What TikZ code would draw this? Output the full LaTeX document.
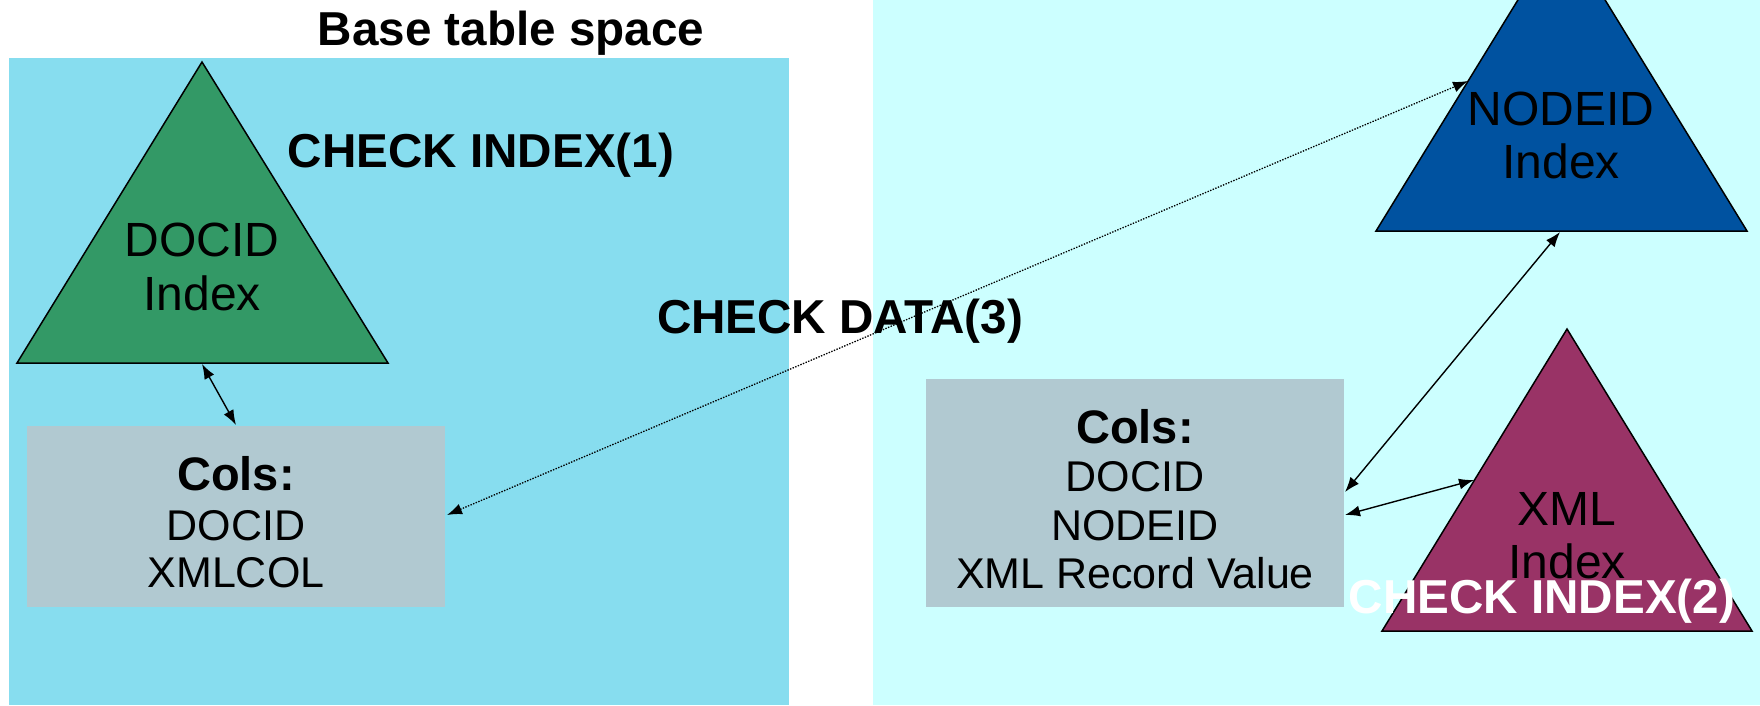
\documentclass[tikz,border=0pt]{standalone}
\usepackage{fontspec}
\setmainfont{Liberation Sans}
\usetikzlibrary{arrows.meta}
\begin{document}
\definecolor{leftbg}{RGB}{135,221,239}
\definecolor{rightbg}{RGB}{204,255,255}
\definecolor{docgreen}{RGB}{51,153,102}
\definecolor{nodeblue}{RGB}{0,82,160}
\definecolor{xmlred}{RGB}{153,51,102}
\definecolor{colgray}{RGB}{177,201,209}
\tikzset{
  colsbox/.style={fill=colgray, draw=none},
  tri/.style={draw=black, line width=1.5pt, line join=miter},
  title/.style={anchor=base, inner sep=0pt, font=\fontsize{47.6}{50}\selectfont\bfseries},
  txt/.style={anchor=base, inner sep=0pt, font=\fontsize{43}{49}\selectfont},
  tritxt/.style={anchor=base, inner sep=0pt, font=\fontsize{48}{52}\selectfont},
  btxt/.style={anchor=base, inner sep=0pt, font=\fontsize{47}{49}\selectfont\bfseries},
  link/.style={line width=1.4pt, {Latex[length=15pt,width=11pt]}-{Latex[length=15pt,width=11pt]}},
  dlink/.style={line width=1.3pt, dash pattern=on 1.4pt off 1.4pt, {Latex[length=15pt,width=11pt]}-{Latex[length=15pt,width=11pt]}}
}
\begin{tikzpicture}[x=1pt,y=-1pt]
\useasboundingbox (0,0) rectangle (1760,705);
\fill[white] (0,0) rectangle (1760,705);
% panels
\fill[leftbg] (9,58) rectangle (789,705);
\fill[rightbg] (873,0) rectangle (1760,705);
% column boxes
\fill[colsbox] (27,426) rectangle (445,607);
\fill[colsbox] (926,379) rectangle (1344,607);
% triangles
\fill[docgreen] (202,62) -- (17,363) -- (388,363) -- cycle;
\draw[tri] (202,62) -- (17,363) -- (388,363) -- cycle;
\begin{scope}
\clip (0,0) rectangle (1760,705);
\fill[nodeblue] (1561.5,-71) -- (1376,231) -- (1747,231) -- cycle;
\draw[tri] (1561.5,-71) -- (1376,231) -- (1747,231) -- cycle;
\end{scope}
\fill[xmlred] (1567,329) -- (1382,631) -- (1752,631) -- cycle;
\draw[tri] (1567,329) -- (1382,631) -- (1752,631) -- cycle;
% texts
\node[title] (ttl) at (511,45) {Base table space};
\node[title] (ci1) at (481,167) {CHECK INDEX(1)};
\node[title] (cd3) at (840,333) {CHECK DATA(3)};
\node[tritxt] (docid1) at (202,256) {DOCID};
\node[tritxt] (docid2) at (202,310) {Index};
\node[tritxt] (nodeid1) at (1561,125) {NODEID};
\node[tritxt] (nodeid2) at (1561,178) {Index};
\node[tritxt] (xml1) at (1567,525) {XML};
\node[tritxt] (xml2) at (1567,578) {Index};
\node[btxt] (lc0) at (236,490) {Cols:};
\node[txt] (lc1) at (236,540) {DOCID};
\node[txt] (lc2) at (236,587) {XMLCOL};
\node[btxt] (rc0) at (1135,443) {Cols:};
\node[txt] (rc1) at (1135,491) {DOCID};
\node[txt] (rc2) at (1135,540) {NODEID};
\node[txt] (rc3) at (1135,588) {XML Record Value};
\node[title, text=white] (ci2) at (1542,613) {CHECK INDEX(2)};
% connector end points
\coordinate (docbase) at (202,364);
\coordinate (lcolstop) at (236,425);
\coordinate (lcolsright) at (447,515);
\coordinate (nodeleft) at (1468,81);
\coordinate (nodebase) at (1560,232);
\coordinate (rcolsA) at (1345,492);
\coordinate (rcolsB) at (1345,515);
\coordinate (xmlleft) at (1474,480);
% connectors
\draw[link] (docbase) -- (lcolstop);
\draw[dlink] (lcolsright) -- (nodeleft);
\draw[link] (nodebase) -- (rcolsA);
\draw[link] (rcolsB) -- (xmlleft);
\end{tikzpicture}
\end{document}
